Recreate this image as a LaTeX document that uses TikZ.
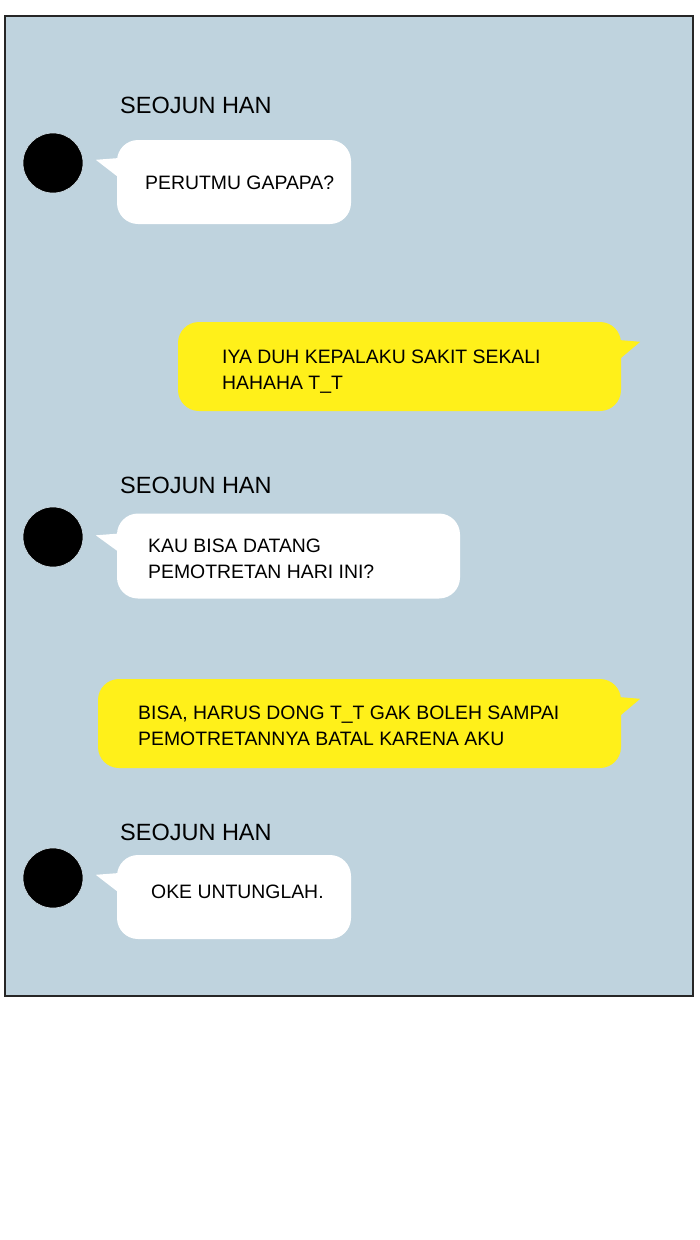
\documentclass[tikz,border=0pt]{standalone}
\usepackage{fontspec}
\setmainfont{Liberation Sans}
\usetikzlibrary{calc}
\definecolor{panelbg}{RGB}{191,211,222}
\definecolor{chatyellow}{RGB}{255,240,26}
\begin{document}
\begin{tikzpicture}[x=1pt,y=-1pt,
  panel/.style={draw=black!85, line width=2pt, fill=panelbg},
  avatar/.style={circle, fill=black, draw=panelbg!70!white, line width=0.6pt, minimum size=60pt, inner sep=0pt},
  bubblebox/.style={rounded corners=21pt, inner sep=0pt, minimum width=#1},
  wbox/.style={bubblebox=#1, fill=white},
  ybox/.style={bubblebox=#1, fill=chatyellow},
  sender/.style={anchor=base west, inner sep=0pt, font=\fontsize{23.5}{28}\selectfont},
  msg/.style={anchor=base west, inner sep=0pt, align=left, font=\fontsize{19.4}{26}\selectfont}
]
\useasboundingbox (0,0) rectangle (700,1240);
\fill[white] (0,0) rectangle (700,1240);
\draw[panel] (5,16) rectangle (693,996);

% ---- message 1 ----
\node[sender] (s1) at (120,113) {SEOJUN HAN};
\node[avatar] (a1) at (53,163) {};
\node[wbox=234pt, minimum height=84pt] (b1) at (234,182) {};
\fill[white] ($(b1.north west)+(5,18)$) -- ($(b1.north west)+(-21,20)$) -- ($(b1.north west)+(1,37)$) -- cycle;
\node[msg] (t1) at (145,189) {PERUTMU GAPAPA?};

% ---- message 2 ----
\node[ybox=443pt, minimum height=89pt] (b2) at (399.5,366.5) {};
\fill[chatyellow] ($(b2.north east)+(-5,18)$) -- ($(b2.north east)+(19,20)$) -- ($(b2.north east)+(0,36)$) -- cycle;
\node[msg] (t2) at (222,389) {IYA DUH KEPALAKU SAKIT SEKALI\\HAHAHA T\_T};

% ---- message 3 ----
\node[sender] (s2) at (120,493) {SEOJUN HAN};
\node[avatar] (a2) at (53,537) {};
\node[wbox=343pt, minimum height=85pt] (b3) at (288.5,556) {};
\fill[white] ($(b3.north west)+(5,20)$) -- ($(b3.north west)+(-21,22)$) -- ($(b3.north west)+(1,38)$) -- cycle;
\node[msg] (t3) at (148,578) {KAU BISA DATANG\\PEMOTRETAN HARI INI?};

% ---- message 4 ----
\node[ybox=523pt, minimum height=89pt] (b4) at (359.5,723.5) {};
\fill[chatyellow] ($(b4.north east)+(-5,18)$) -- ($(b4.north east)+(19,20)$) -- ($(b4.north east)+(0,36)$) -- cycle;
\node[msg] (t4) at (138,745) {BISA, HARUS DONG T\_T GAK BOLEH SAMPAI\\PEMOTRETANNYA BATAL KARENA AKU};

% ---- message 5 ----
\node[sender] (s3) at (120,840) {SEOJUN HAN};
\node[avatar] (a3) at (53,878) {};
\node[wbox=234pt, minimum height=84pt] (b5) at (234,897) {};
\fill[white] ($(b5.north west)+(5,18)$) -- ($(b5.north west)+(-21,20)$) -- ($(b5.north west)+(1,37)$) -- cycle;
\node[msg] (t5) at (151,898) {OKE UNTUNGLAH.};
\end{tikzpicture}
\end{document}
